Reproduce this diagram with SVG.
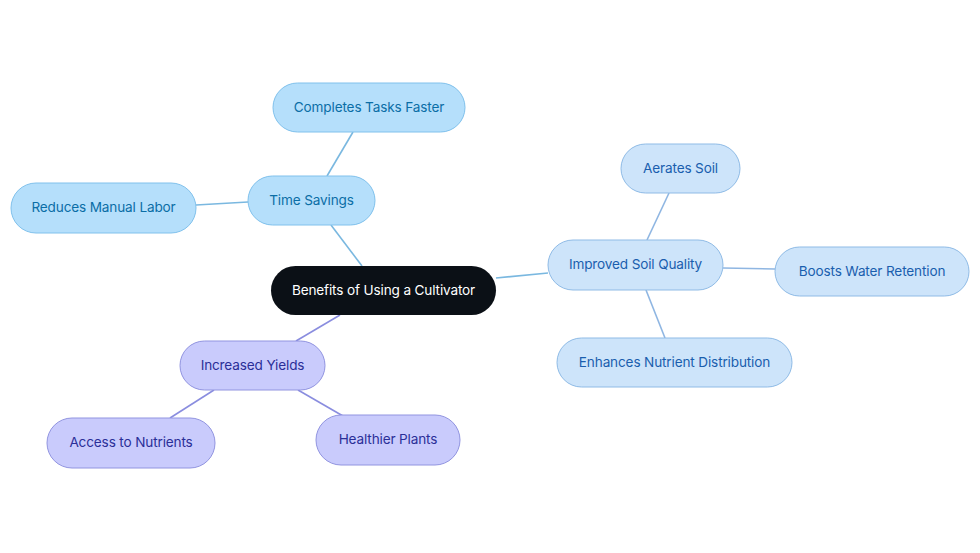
<svg xmlns="http://www.w3.org/2000/svg" width="980" height="553" viewBox="0 0 980 553">
<style>
text{font-family:Inter,"Noto Sans","Liberation Sans",sans-serif;font-size:13.6px;letter-spacing:-0.15px;text-anchor:middle;dominant-baseline:central}
.t rect{fill:#b5dffb;stroke:#80c1ec;stroke-width:1}
.t text{fill:#0b6ea6}
.s rect{fill:#cde4fa;stroke:#8fbbe6;stroke-width:1}
.s text{fill:#1a5eae}
.y rect{fill:#c9cbfc;stroke:#9194e0;stroke-width:1}
.y text{fill:#2b2f98}
.lb{stroke:#7ab8e0;stroke-width:1.6;fill:none}
.ls{stroke:#8fb6e2;stroke-width:1.6;fill:none}
.lp{stroke:#8a8ddf;stroke-width:1.6;fill:none}
</style>
<rect width="980" height="553" fill="#ffffff"/>
<g id="connectors">
<line class="lb" x1="362" y1="266" x2="331" y2="225"/>
<line class="lb" x1="327" y1="176" x2="353" y2="132"/>
<line class="lb" x1="248" y1="202" x2="196" y2="205"/>
<line class="lb" x1="496" y1="278" x2="548" y2="273"/>
<line class="ls" x1="647" y1="240" x2="669" y2="193"/>
<line class="ls" x1="723" y1="268" x2="775" y2="269"/>
<line class="ls" x1="646" y1="290" x2="665" y2="338"/>
<line class="lp" x1="340" y1="315" x2="296" y2="341"/>
<line class="lp" x1="214" y1="390" x2="170" y2="418"/>
<line class="lp" x1="298" y1="390" x2="343" y2="416"/>
</g>
<g id="center"><rect x="271" y="266" width="225" height="49" rx="24.5" fill="#0b1016"/><text x="383.5" y="289.5" fill="#ffffff">Benefits of Using a Cultivator</text></g>
<g id="time-savings" class="t"><rect x="248" y="176" width="127" height="49" rx="24.5"/><text x="311.5" y="199.5">Time Savings</text></g>
<g id="completes-tasks" class="t"><rect x="273" y="83" width="192" height="49" rx="24.5"/><text x="369" y="106.5">Completes Tasks Faster</text></g>
<g id="reduces-labor" class="t"><rect x="11" y="183" width="185" height="50" rx="25"/><text x="103.5" y="207">Reduces Manual Labor</text></g>
<g id="soil-quality" class="s"><rect x="548" y="240" width="175" height="50" rx="25"/><text x="635.5" y="264">Improved Soil Quality</text></g>
<g id="aerates" class="s"><rect x="621" y="144" width="119" height="49" rx="24.5"/><text x="680.5" y="167.5">Aerates Soil</text></g>
<g id="water" class="s"><rect x="775" y="247" width="194" height="49" rx="24.5"/><text x="872" y="270.5">Boosts Water Retention</text></g>
<g id="nutrient-dist" class="s"><rect x="557" y="338" width="235" height="49" rx="24.5"/><text x="674.5" y="361.5">Enhances Nutrient Distribution</text></g>
<g id="yields" class="y"><rect x="180" y="341" width="145" height="49" rx="24.5"/><text x="252.5" y="364.5">Increased Yields</text></g>
<g id="access" class="y"><rect x="47" y="418" width="168" height="50" rx="25"/><text x="131" y="442">Access to Nutrients</text></g>
<g id="healthier" class="y"><rect x="316" y="415" width="144" height="50" rx="25"/><text x="388" y="439">Healthier Plants</text></g>
</svg>
